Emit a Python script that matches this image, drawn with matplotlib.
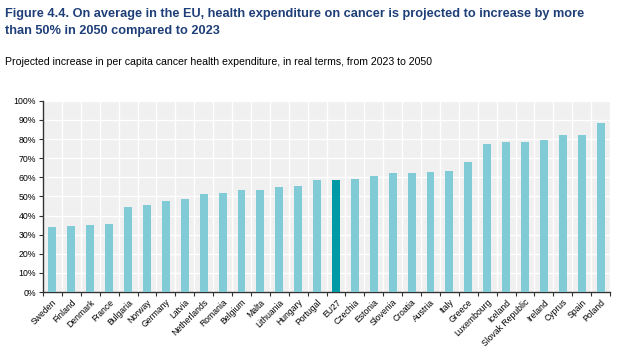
import numpy as np
from matplotlib import pyplot as plt

countries = ["Sweden", "Finland", "Denmark", "France", "Bulgaria", "Norway", "Germany", "Latvia",
             "Netherlands", "Romania", "Belgium", "Malta", "Lithuania", "Hungary", "Portugal", "EU27",
             "Czechia", "Estonia", "Slovenia", "Croatia", "Austria", "Italy", "Greece", "Luxembourg",
             "Iceland", "Slovak Republic", "Ireland", "Cyprus", "Spain", "Poland"]
increase = [34.0, 34.6, 35.3, 35.8, 44.7, 45.4, 47.8, 48.9, 51.3, 52.0, 53.4, 53.6, 55.0, 55.3,
            58.5, 58.8, 59.2, 60.9, 62.3, 62.3, 63.0, 63.4, 68.1, 77.3, 78.4, 78.4, 79.7, 82.0,
            82.2, 88.6]
yticks = list(range(0, 101, 10))

plt.rcParams['font.family'] = ['Liberation Sans', 'DejaVu Sans']

fig = plt.figure(figsize=(6.28, 3.49), dpi=100)
ax = fig.add_axes([0.0685, 0.163, 0.903, 0.548])

x = np.arange(len(countries))
colors = ['#009aa6' if c == "EU27" else '#80cbd6' for c in countries]
ax.bar(x, increase, width=0.42, color=colors, zorder=3)

ax.set_facecolor('#f0f0f0')
ax.set_xlim(-0.5, len(countries) - 0.5)
ax.set_ylim(0, 100)
ax.set_yticks(yticks)
ax.set_yticklabels([f"{v}%" for v in yticks], fontsize=6.3)
ax.set_xticks(x)
ax.set_xticklabels(countries, rotation=45, ha='right', rotation_mode='anchor', fontsize=6.2)
ax.set_xticks(np.arange(len(countries) + 1) - 0.5, minor=True)
ax.tick_params(axis='x', which='major', length=0, pad=4)
ax.tick_params(axis='x', which='minor', length=3, width=0.8, color='#333333')
ax.tick_params(axis='y', length=3, width=0.8, color='#333333', pad=2)
ax.grid(axis='y', color='white', linewidth=1, zorder=1)
ax.grid(axis='x', which='minor', color='white', linewidth=1, zorder=1)
ax.set_axisbelow(True)
for s in ['top', 'right']:
    ax.spines[s].set_visible(False)
for s in ['left', 'bottom']:
    ax.spines[s].set_color('#333333')
    ax.spines[s].set_linewidth(1)

fig.text(0.008, 0.978, "Figure 4.4. On average in the EU, health expenditure on cancer is projected to increase by more\n"
         "than 50% in 2050 compared to 2023", fontsize=9.2, fontweight='bold', color='#1f3f78',
         va='top', ha='left', linespacing=1.55)
fig.text(0.008, 0.822, "Projected increase in per capita cancer health expenditure, in real terms, from 2023 to 2050",
         fontsize=7.6, color='black', va='center', ha='left')

plt.savefig('out.png', dpi=100)
